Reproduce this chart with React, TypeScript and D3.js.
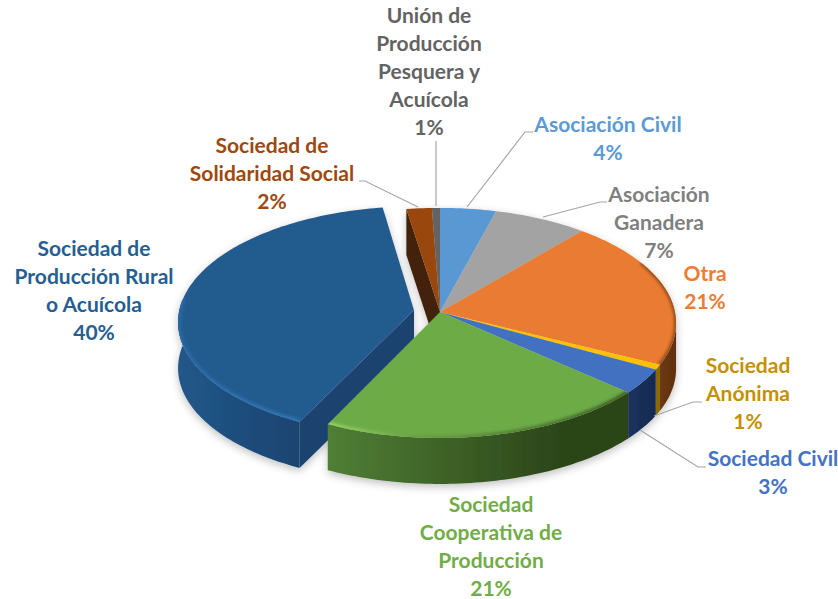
import React from "react";
import * as d3 from "d3";

const categories = ["Asociación Civil","Asociación Ganadera","Otra","Sociedad Anónima","Sociedad Civil","Sociedad Cooperativa de Producción","Sociedad de Producción Rural o Acuícola","Sociedad de Solidaridad Social","Unión de Producción Pesquera y Acuícola"];
const values = [4.2,7.0,21.1,0.7,3.49,20.7,40.3,1.9,0.6];
const topColors = ["#5a98d3","#a3a3a3","#e97b30","#ffc000","#4271c2","#6dab47","#245b8f","#9a470e","#636363"];
const textColors = ["#5b9bd5","#7f7f7f","#ed7d31","#c69000","#4472c4","#70ad47","#255e91","#9e480e","#636363"];
const wallLeft = ["#3a6a96","#6e6e6e","#7f4318","#b88a00","#1b3360","#507f35","#215889","#43200a","#444444"];
const wallRight = ["#3a6a96","#6e6e6e","#5f300f","#8a6800","#172b4f","#2c4519","#1a4370","#43200a","#444444"];
const labelLines = [["Asociación Civil"],["Asociación","Ganadera"],["Otra"],["Sociedad","Anónima"],["Sociedad Civil"],["Sociedad","Cooperativa de","Producción"],["Sociedad de","Producción Rural","o Acuícola"],["Sociedad de","Solidaridad Social"],["Unión de","Producción","Pesquera y","Acuícola"]];
const labelX = [608,659,705,748,773,491,94,272,429];
const labelY = [125,195,274,366,459,505,249,146,16];
const leaders: [number,number][][] = [
  [[533,132],[525,132],[467,207]],
  [[607,202],[600,202],[543,217]],
  [],
  [[702,402],[693,402],[654,416]],
  [[706,467],[698,467],[640,430]],
  [],[],
  [[359,181],[365,181],[418,207]],
  [[436,141],[436,206]],
];
const exploded = [0,0,0,0,0,0,0.112,0,0];

const CX = 440, CY = 312, R = 235, K = 114, P = 0.095, DEPTH = 46;

const pie = d3.pie<number>().sort(null).startAngle(0).endAngle(2*Math.PI);
const arcs = pie(values);

function project(X: number, Y: number, z = 0): [number, number] {
  const w = 1 + P*Y;
  return [CX + R*X/w, CY - K*Y/w + z];
}
function pt(i: number, r: number, a: number, z = 0) {
  const e = exploded[i];
  const m = (arcs[i].startAngle + arcs[i].endAngle)/2;
  return project(e*Math.sin(m) + r*Math.sin(a), e*Math.cos(m) + r*Math.cos(a), z);
}
const line = d3.line();
function rim(i: number, from: number, to: number, z = 0, r = 1) {
  const n = Math.max(2, Math.ceil(Math.abs(to-from)/0.02));
  return d3.range(n+1).map(j => pt(i, r, from + (to-from)*j/n, z));
}
function topPath(i: number) {
  const { startAngle: s, endAngle: e } = arcs[i];
  return line([pt(i,0,s), ...rim(i,s,e)])! + "Z";
}
function outerWall(i: number) {
  const s = Math.max(arcs[i].startAngle, Math.PI/2 + 0.1);
  const e = Math.min(arcs[i].endAngle, 3*Math.PI/2 + 0.1);
  if (e <= s) return null;
  return line([...rim(i,s,e), ...rim(i,e,s,DEPTH)])! + "Z";
}
function cutWall(i: number, a: number) {
  return line([pt(i,0,a), pt(i,1,a), pt(i,1,a,DEPTH), pt(i,0,a,DEPTH)])! + "Z";
}
const RURAL = 6, SOLID = 7;
const mainOrder = [0,1,2,3,4,5,7,8];
const percent = (v: number) => `${Math.round(v)}%`;

export default function App() {
  const fullBody = (idx: number[]) => idx.map(i => {
    const w = outerWall(i);
    return <g key={i}>{w && <path d={w} fill={`url(#wall${i})`} />}<path d={topPath(i)} fill={topColors[i]} /></g>;
  });
  return (
    <svg width={838} height={599} style={{position:"absolute",left:0,top:0,background:"#fff"}} fontFamily="Lato, Carlito, sans-serif" fontWeight={700}>
      <defs>
        <filter id="shadow" x="-10%" y="-10%" width="120%" height="125%">
          <feGaussianBlur in="SourceAlpha" stdDeviation="4" />
          <feOffset dx="0" dy="3" />
          <feComponentTransfer><feFuncA type="linear" slope="0.25" /></feComponentTransfer>
          <feMerge><feMergeNode /><feMergeNode in="SourceGraphic" /></feMerge>
        </filter>
        <filter id="soft" x="-10%" y="-10%" width="120%" height="120%"><feGaussianBlur stdDeviation="1.5" /></filter>
        {values.map((_,i) => (
          <linearGradient key={i} id={`wall${i}`} gradientUnits="userSpaceOnUse"
            x1={i===RURAL?178:i===5?327:i===2?640:i===4?625:CX-R} x2={i===RURAL?302:i===5?560:i===2?676:i===4?655:CX+R} y1={0} y2={0}>
            <stop offset="0" stopColor={wallLeft[i]} />
            <stop offset="1" stopColor={wallRight[i]} />
          </linearGradient>
        ))}
        {[RURAL,5,2].map(i => <clipPath key={i} id={`clip${i}`}><path d={topPath(i)} /></clipPath>)}
        <linearGradient id="greenRim" gradientUnits="userSpaceOnUse" x1={327} x2={625} y1={0} y2={0}>
          <stop offset="0" stopColor="#9ad566" /><stop offset="0.3" stopColor="#6a9f45" /><stop offset="1" stopColor="#3c5c26" />
        </linearGradient>
        <linearGradient id="blueRim" gradientUnits="userSpaceOnUse" x1={178} x2={302} y1={340} y2={418}>
          <stop offset="0" stopColor="#2a6ba6" /><stop offset="1" stopColor="#2f76b4" />
        </linearGradient>
      </defs>
      <g filter="url(#shadow)">
        <path d={cutWall(SOLID, arcs[SOLID].startAngle)} fill={wallLeft[SOLID]} />
        <path d={cutWall(RURAL, arcs[RURAL].startAngle)} fill={wallRight[RURAL]} />
        {fullBody([RURAL])}
        <g clipPath={`url(#clip${RURAL})`}>
          <path d={line(rim(RURAL,arcs[RURAL].startAngle,3*Math.PI/2+0.1))!} fill="none" stroke="url(#blueRim)" strokeWidth={5} filter="url(#soft)" />
        </g>
        {fullBody(mainOrder)}
        <g clipPath="url(#clip5)">
          <path d={line(rim(5,arcs[5].startAngle,arcs[5].endAngle))!} fill="none" stroke="url(#greenRim)" strokeWidth={5} filter="url(#soft)" />
        </g>
        <g clipPath="url(#clip2)">
          <path d={line(rim(2,arcs[2].startAngle+0.4,arcs[2].endAngle))!} fill="none" stroke="#8c4a1d" strokeWidth={4} filter="url(#soft)" />
        </g>
      </g>
      {leaders.map((pts,i) => pts.length>0 && <path key={i} d={line(pts)!} fill="none" stroke="#a6a6a6" strokeWidth={1.2} />)}
      {categories.map((c,i) => (
        <text key={c} x={labelX[i]} textAnchor="middle" fontSize={21} fill={textColors[i]}>
          {[...labelLines[i], percent(values[i])].map((t,j) => (
            <tspan key={j} x={labelX[i]} y={labelY[i] + j*28} dy="0.35em">{t}</tspan>
          ))}
        </text>
      ))}
    </svg>
  );
}
